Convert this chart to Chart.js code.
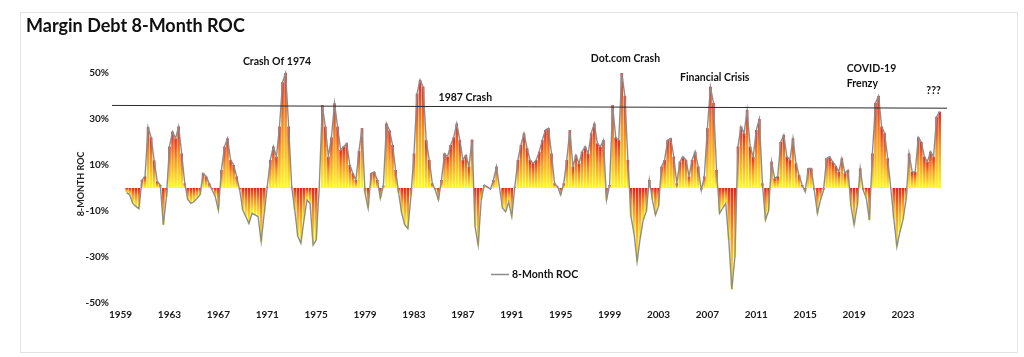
<!DOCTYPE html>
<html><head><meta charset="utf-8">
<script src="https://cdn.jsdelivr.net/npm/chart.js@4.4.1/dist/chart.umd.min.js"></script>
<style>html,body{margin:0;padding:0;background:#fff;}#wrap{position:relative;width:1024px;height:357px;}</style>
</head><body><div id="wrap"><canvas id="c" width="1024" height="357" style="width:1024px;height:357px"></canvas></div>
<script>
// Quarterly 8-month rate of change (%), starting mid-1959
const startYear = 1959.5;
const stepYears = 0.25;
const roc = [
 -2,-3,-6.7,-8,-9,3.5,5,26.5,22,12,2.8,1.3,-16,-4,18,24.5,21.6,26.7,15,2,
 -5,-6.7,-6,-4.5,-3,6.4,5,2,-1,-3.8,-9.6,7.8,18,21.6,12.2,10,5,-1,-9.6,-12.5,
 -15.4,-11,-11.7,-12.5,-23.3,-11,0.5,12.2,18,13.6,26.7,46,50,26.7,0.5,-9.6,-21,-24,-14,-5.2,
 -6.7,-24.8,-22.6,0,36,26.7,13.6,22,36.8,26.7,16.5,18,19.4,10,6.4,3.5,16,26,-2.3,-8.8,
 6.4,7,3.5,-4.5,1,28,25,18.7,7.8,-2.3,-11,-16,-17.6,-3.8,15,41,47,44,20.8,12.2,
 2,-1,-5.2,3.5,15,13.6,18.7,22,28,20.8,12.2,14.3,9.3,21,-16.8,-24.8,-5.2,1.3,0.5,-0.5,
 3.5,9.3,0,-8.8,-10.3,-6,-12.5,0.5,12.2,18.7,23.8,17.3,12.2,10.7,12.2,15.8,20.8,25.2,26,15,
 2,0.5,-3,2,12.2,25.2,9.3,14.3,10.7,15.8,18,15,23.8,28,19.4,18,20.8,-5.2,1.3,36,
 22,20.8,50,40,12.2,-12.5,-19.7,-32,-21.9,-13.9,-10.3,3.5,-5.2,-11.7,-8,9.3,12.2,20.8,21.6,13.6,
 2,11.4,13.6,12.2,5,12.2,15.8,9.3,-1,5,26,44,37,7.8,-11,-8.8,-6.7,-22.6,-44,-30,
 18,26.7,23.8,33.9,18,13.6,25.2,30,2,-13.9,-10,11.4,4.2,5,20,23,13.6,12.2,21.6,10.7,
 5.6,1.3,-1.6,8.5,8.5,-1,-11,-5.2,-1,12.9,13.6,11.4,9.6,7,12.9,6.4,7.8,-8,-16,-8,
 8.5,-1,-4.5,-14,15,37,40,26.7,23.8,12.9,0,-13.2,-25.5,-19,-13.9,-5.2,15,7,7,22,
 20,13.6,11.4,15.8,13.6,31,33.2
];
const dates = roc.map((_, i) => startYear + i * stepYears);
const xTickYears = [1959,1963,1967,1971,1975,1979,1983,1987,1991,1995,1999,2003,2007,2011,2015,2019,2023];
const yTickValues = [-50,-30,-10,10,30,50];
const resistanceYears = [1958.3, 2026.6];
const resistanceValues = [35.9, 34.7];
const notes = [
  {text:'Crash Of 1974', year:1971.8, value:54.8, align:'center'},
  {text:'1987 Crash', year:1987.2, value:39.1, align:'center'},
  {text:'Dot.com Crash', year:2000.3, value:56.1, align:'center'},
  {text:'Financial Crisis', year:2007.6, value:47.8, align:'center'},
  {text:'COVID-19', year:2018.4, value:51.7, align:'left'},
  {text:'Frenzy', year:2018.4, value:45.2, align:'left'},
  {text:'???', year:2025.5, value:42.2, align:'center'}
];

const FONT = 'Lato, "Open Sans", sans-serif';
const barData = dates.map((d, i) => ({x: d, y: roc[i]}));
const lineData = barData;
const resData = resistanceYears.map((d, i) => ({x: d, y: resistanceValues[i]}));

function barGradient(ctx) {
  const chart = ctx.chart;
  if (!chart.chartArea || ctx.type !== 'data') return '#f7941d';
  const ys = chart.scales.y;
  const v = ctx.raw.y;
  const top = ys.getPixelForValue(Math.max(v, 0));
  const bot = ys.getPixelForValue(Math.min(v, 0));
  if (bot - top < 1) return '#ea3a1c';
  const g = chart.ctx.createLinearGradient(0, top, 0, bot);
  g.addColorStop(0, '#e8221c');
  g.addColorStop(0.45, '#f8951c');
  g.addColorStop(1, '#fffb1e');
  return g;
}

const textPlugin = {
  id: 'texts',
  beforeDraw(chart) {
    const c = chart.ctx;
    c.save();
    c.fillStyle = '#fff';
    c.fillRect(0, 0, chart.width, chart.height);
    c.strokeStyle = '#e3e3e3';
    c.lineWidth = 1;
    c.strokeRect(20.5, 12.5, 997, 340);
    c.restore();
  },
  afterDraw(chart) {
    const c = chart.ctx;
    const xs = chart.scales.x, ys = chart.scales.y;
    c.save();
    c.fillStyle = '#111';
    c.textBaseline = 'alphabetic';
    c.textAlign = 'left';
    c.font = 'bold 18px ' + FONT;
    c.fillText('Margin Debt 8-Month ROC', 26, 32);
    // y axis title
    c.save();
    c.translate(81, 184);
    c.rotate(-Math.PI / 2);
    c.textAlign = 'center';
    c.textBaseline = 'middle';
    c.font = 'bold 9px ' + FONT;
    c.fillStyle = '#222';
    c.fillText('8-MONTH ROC', 0, 0);
    c.restore();
    // annotations
    c.font = 'bold 10.5px ' + FONT;
    c.textBaseline = 'middle';
    c.fillStyle = '#111';
    notes.forEach(n => {
      c.textAlign = n.align;
      c.fillText(n.text, xs.getPixelForValue(n.year), ys.getPixelForValue(n.value));
    });
    // legend
    c.strokeStyle = '#8d8d8d';
    c.lineWidth = 1.5;
    c.beginPath();
    c.moveTo(491, 274.5);
    c.lineTo(509, 274.5);
    c.stroke();
    c.textAlign = 'left';
    c.fillText(chart.data.datasets[1].label, 512, 274.5);
    c.restore();
  }
};

new Chart(document.getElementById('c'), {
  type: 'bar',
  data: {
    datasets: [
      {type:'line', label:'Resistance', data: resData, borderColor:'#2b2b2b', borderWidth:1, pointRadius:0, fill:false, clip:false, order:1},
      {type:'line', label:'8-Month ROC', data: lineData, borderColor:'#8d8d8d', borderWidth:1.4, pointRadius:0, tension:0, fill:false, clip:false, order:2},
      {type:'bar', label:'bars', data: barData, backgroundColor: barGradient, borderWidth:0, barPercentage:0.85, categoryPercentage:1, clip:false, order:3}
    ]
  },
  options: {
    responsive: false,
    animation: false,
    devicePixelRatio: 1,
    layout: {padding: {top: 73, right: 77, left: 0, bottom: 0}},
    plugins: {legend: {display: false}, tooltip: {enabled: false}, title: {display: false}},
    scales: {
      x: {
        type: 'linear', min: 1958.3, max: 2026.6, offset: false,
        grid: {display: false, drawTicks: false, offset: false}, border: {display: false},
        afterBuildTicks: (s) => { s.ticks = xTickYears.map(v => ({value: v})); },
        afterFit: (s) => { s.height = 54; },
        ticks: {autoSkip: false, maxRotation: 0, padding: 6, color: '#1a1a1a', font: {family: FONT, weight: 'bold', size: 10}, callback: (v) => String(v)}
      },
      y: {
        type: 'linear', min: -50, max: 50,
        grid: {display: false, drawTicks: false}, border: {display: false},
        afterBuildTicks: (s) => { s.ticks = yTickValues.map(v => ({value: v})); },
        afterFit: (s) => { s.width = 112; },
        ticks: {padding: 3, color: '#1a1a1a', font: {family: FONT, weight: 'bold', size: 10}, callback: (v) => v + '%'}
      }
    }
  },
  plugins: [textPlugin]
});
</script></body></html>
